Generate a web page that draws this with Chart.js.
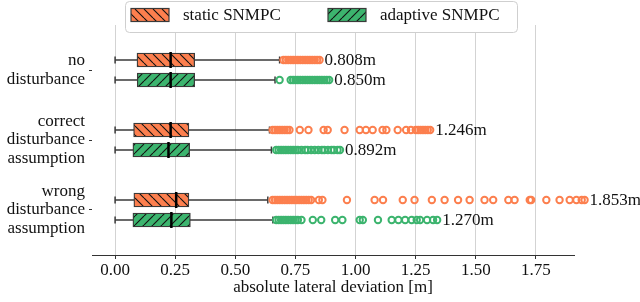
<!DOCTYPE html>
<html lang="en">
<head>
<meta charset="UTF-8">
<title>Absolute lateral deviation box plots</title>
<script src="https://cdn.jsdelivr.net/npm/chart.js@4.4.1/dist/chart.umd.min.js"></script>
<style>
    body { margin: 0; background: #fff; }
    #chart { display: block; }
</style>
</head>
<body>
<canvas id="chart" width="640" height="302"></canvas>
<script>
// Categories (y axis, top to bottom) and series
const groups = [
    ['no', 'disturbance'],
    ['correct', 'disturbance', 'assumption'],
    ['wrong', 'disturbance', 'assumption']
];
const seriesNames = ['static SNMPC', 'adaptive SNMPC'];
const xTicks = [0, 0.25, 0.5, 0.75, 1.0, 1.25, 1.5, 1.75];

// Box statistics per group (m)
const staticLo  = [0, 0, 0];
const staticQ1  = [0.091, 0.077, 0.078];
const staticMed = [0.231, 0.231, 0.254];
const staticQ3  = [0.331, 0.307, 0.307];
const staticHi  = [0.684, 0.642, 0.635];

const adaptiveLo  = [0, 0, 0];
const adaptiveQ1  = [0.092, 0.074, 0.074];
const adaptiveMed = [0.231, 0.222, 0.234];
const adaptiveQ3  = [0.331, 0.310, 0.313];
const adaptiveHi  = [0.665, 0.650, 0.656];

// Outliers per group (m)
const staticOut = [
    [0.70, 0.71, 0.72, 0.73, 0.74, 0.75, 0.76, 0.77, 0.78, 0.79, 0.80, 0.81, 0.82, 0.83, 0.84, 0.85],
    [0.655, 0.665, 0.675, 0.685, 0.695, 0.705, 0.715, 0.725, 0.768, 0.804, 0.867, 0.884, 0.954,
     1.017, 1.043, 1.071, 1.112, 1.128, 1.175, 1.21, 1.23, 1.25, 1.26, 1.27, 1.28, 1.29, 1.30, 1.31],
    [0.655, 0.665, 0.675, 0.685, 0.695, 0.705, 0.715, 0.725, 0.735, 0.745, 0.755, 0.765, 0.775,
     0.785, 0.795, 0.805, 0.815, 0.847, 0.862, 0.964, 1.079, 1.114, 1.196, 1.245, 1.317, 1.37,
     1.426, 1.474, 1.536, 1.572, 1.635, 1.661, 1.724, 1.73, 1.793, 1.848, 1.89, 1.918, 1.94, 1.952]
];
const adaptiveOut = [
    [0.684, 0.73, 0.74, 0.75, 0.76, 0.77, 0.78, 0.79, 0.80, 0.81, 0.82, 0.83, 0.84, 0.85, 0.86,
     0.87, 0.88, 0.89],
    [0.67, 0.68, 0.69, 0.70, 0.71, 0.72, 0.73, 0.74, 0.75, 0.76, 0.775, 0.79, 0.80, 0.815, 0.83,
     0.845, 0.86, 0.87, 0.885, 0.90, 0.91, 0.925, 0.935],
    [0.67, 0.68, 0.69, 0.70, 0.71, 0.72, 0.73, 0.74, 0.75, 0.76, 0.775, 0.822, 0.857, 0.915, 0.945,
     1.017, 1.03, 1.093, 1.15, 1.178, 1.206, 1.233, 1.254, 1.268, 1.297, 1.322, 1.339]
];

// Annotated maxima
const staticMaxText   = ['0.808m', '1.246m', '1.853m'];
const adaptiveMaxText = ['0.850m', '0.892m', '1.270m'];

const ORANGE = '#fc7f4e';
const GREEN = '#3cb46e';
const EDGE = '#3a3a3a';
const FONT = "'Liberation Serif', 'Times New Roman', serif";
const OFF = 0.143;   // half distance between the two boxes of a group

function hatch(color, dir) {
    const s = 9;
    const c = document.createElement('canvas');
    c.width = s; c.height = s;
    const g = c.getContext('2d');
    g.fillStyle = color;
    g.fillRect(0, 0, s, s);
    g.strokeStyle = '#111';
    g.lineWidth = 1.1;
    g.beginPath();
    for (const k of [-s, 0, s]) {
        if (dir === 'back') { g.moveTo(k, 0); g.lineTo(k + s, s); }
        else { g.moveTo(k, s); g.lineTo(k + s, 0); }
    }
    g.stroke();
    return g.createPattern(c, 'repeat');
}
const orangeHatch = hatch(ORANGE, 'back');
const greenHatch = hatch(GREEN, 'fwd');

function boxes(q1, q3, off) {
    return q1.map((v, i) => ({ x: [v, q3[i]], y: i + off }));
}
function points(vals, off) {
    return vals.map((v, i) => ({ x: v, y: i + off }));
}
function whiskers(lo, hi, off) {
    const pts = [];
    lo.forEach((v, i) => {
        pts.push({ x: v, y: i + off }, { x: hi[i], y: i + off }, { x: NaN, y: NaN });
    });
    return pts;
}
function outliers(lists, off) {
    const pts = [];
    lists.forEach((l, i) => l.forEach(v => pts.push({ x: v, y: i + off })));
    return pts;
}

const whiskerStyle = { type: 'line', borderColor: EDGE, borderWidth: 1.5, pointRadius: 0, spanGaps: false, order: 5 };
const capStyle = { type: 'scatter', pointStyle: 'line', rotation: 90, radius: 3.5, borderColor: EDGE, borderWidth: 1.5, order: 4 };
const medStyle = { type: 'scatter', pointStyle: 'line', rotation: 90, radius: 8, borderColor: '#000', borderWidth: 2.5, order: 0 };
const outStyle = { type: 'scatter', clip: false, pointRadius: 3.2, pointBorderWidth: 2, backgroundColor: 'rgba(0,0,0,0)', order: 1 };

const datasets = [
    Object.assign({ label: 'whisk-s', data: whiskers(staticLo, staticHi, -OFF) }, whiskerStyle),
    Object.assign({ label: 'whisk-a', data: whiskers(adaptiveLo, adaptiveHi, OFF) }, whiskerStyle),
    Object.assign({ label: 'cap-s', data: points(staticLo, -OFF).concat(points(staticHi, -OFF)) }, capStyle),
    Object.assign({ label: 'cap-a', data: points(adaptiveLo, OFF).concat(points(adaptiveHi, OFF)) }, capStyle),
    {
        type: 'bar', label: seriesNames[0], data: boxes(staticQ1, staticQ3, -OFF),
        backgroundColor: orangeHatch, borderColor: EDGE, borderWidth: 1.3, borderSkipped: false,
        grouped: false, categoryPercentage: 1, barPercentage: 1, maxBarThickness: 14, order: 3
    },
    {
        type: 'bar', label: seriesNames[1], data: boxes(adaptiveQ1, adaptiveQ3, OFF),
        backgroundColor: greenHatch, borderColor: EDGE, borderWidth: 1.3, borderSkipped: false,
        grouped: false, categoryPercentage: 1, barPercentage: 1, maxBarThickness: 14, order: 3
    },
    Object.assign({ label: 'med-s', data: points(staticMed, -OFF) }, medStyle),
    Object.assign({ label: 'med-a', data: points(adaptiveMed, OFF) }, medStyle),
    Object.assign({ label: 'out-s', data: outliers(staticOut, -OFF), borderColor: ORANGE }, outStyle),
    Object.assign({ label: 'out-a', data: outliers(adaptiveOut, OFF), borderColor: GREEN }, outStyle)
];

// let the far outliers spill past the right end of the axis
const spillRight = {
    id: 'spillRight',
    beforeDatasetsDraw(chart) {
        this._right = chart.chartArea.right;
        chart.chartArea.right = chart.width;
    },
    afterDatasetsDraw(chart) {
        chart.chartArea.right = this._right;
    }
};

// max annotations next to the outliers
const maxLabels = {
    id: 'maxLabels',
    afterDatasetsDraw(chart) {
        const { ctx, scales: { x, y } } = chart;
        ctx.save();
        ctx.font = '17px ' + FONT;
        ctx.fillStyle = '#111';
        ctx.textBaseline = 'middle';
        ctx.textAlign = 'left';
        const rows = [[staticOut, staticMaxText, -OFF], [adaptiveOut, adaptiveMaxText, OFF]];
        rows.forEach(([outs, texts, off]) => {
            outs.forEach((l, i) => {
                const px = x.getPixelForValue(Math.max(...l)) + 5;
                ctx.fillText(texts[i], px, y.getPixelForValue(i + off) + 1);
            });
        });
        ctx.restore();
    }
};

// framed legend drawn over the top of the axes
const boxLegend = {
    id: 'boxLegend',
    afterDraw(chart) {
        const ctx = chart.ctx;
        ctx.save();
        ctx.beginPath();
        ctx.roundRect(125.5, 1.5, 392, 31, 4);
        ctx.fillStyle = '#fff';
        ctx.fill();
        ctx.strokeStyle = '#cfcfcf';
        ctx.lineWidth = 1;
        ctx.stroke();
        const items = [[orangeHatch, seriesNames[0], 131], [greenHatch, seriesNames[1], 328]];
        ctx.font = '17px ' + FONT;
        ctx.textBaseline = 'middle';
        items.forEach(([pat, text, x0]) => {
            ctx.fillStyle = pat;
            ctx.fillRect(x0, 8.5, 38, 13);
            ctx.strokeStyle = EDGE;
            ctx.lineWidth = 1.2;
            ctx.strokeRect(x0, 8.5, 38, 13);
            ctx.fillStyle = '#111';
            ctx.fillText(text, x0 + 52, 16);
        });
        ctx.restore();
    }
};

new Chart(document.getElementById('chart'), {
    type: 'bar',
    data: { datasets },
    plugins: [spillRight, maxLabels, boxLegend],
    options: {
        indexAxis: 'y',
        responsive: false,
        animation: false,
        layout: { padding: { top: 25, right: 66, left: 0, bottom: 0 } },
        plugins: { legend: { display: false }, tooltip: { enabled: false } },
        scales: {
            x: {
                type: 'linear',
                offset: false,
                beginAtZero: false,
                min: -0.096,
                max: 1.908,
                afterBuildTicks: s => { s.ticks = xTicks.map(v => ({ value: v })); },
                afterFit: s => { s.height = 47; s.paddingLeft = 0; s.paddingRight = 0; },
                ticks: {
                    callback: v => v.toFixed(2),
                    color: '#111',
                    font: { family: FONT, size: 17 },
                    padding: 1,
                    maxRotation: 0
                },
                grid: { offset: false, color: '#d3d3d3', lineWidth: 1, tickColor: '#333', tickLength: 4 },
                border: { display: true, color: '#333', width: 1 },
                title: {
                    display: true,
                    text: 'absolute lateral deviation [m]',
                    color: '#111',
                    font: { family: FONT, size: 17 },
                    padding: { top: 0, bottom: 4 }
                }
            },
            y: {
                type: 'linear',
                offset: false,
                beginAtZero: false,
                reverse: true,
                min: -0.643,
                max: 2.643,
                afterBuildTicks: s => { s.ticks = groups.map((g, i) => ({ value: i })); },
                afterFit: s => { s.width = 92; s.paddingTop = 0; s.paddingBottom = 0; },
                ticks: {
                    callback: v => groups[v],
                    color: '#111',
                    font: { family: FONT, size: 17, lineHeight: 1.08 },
                    padding: 4
                },
                grid: { offset: false, drawOnChartArea: false, tickColor: '#333', tickLength: 3 },
                border: { display: false }
            }
        }
    }
});
</script>
</body>
</html>
